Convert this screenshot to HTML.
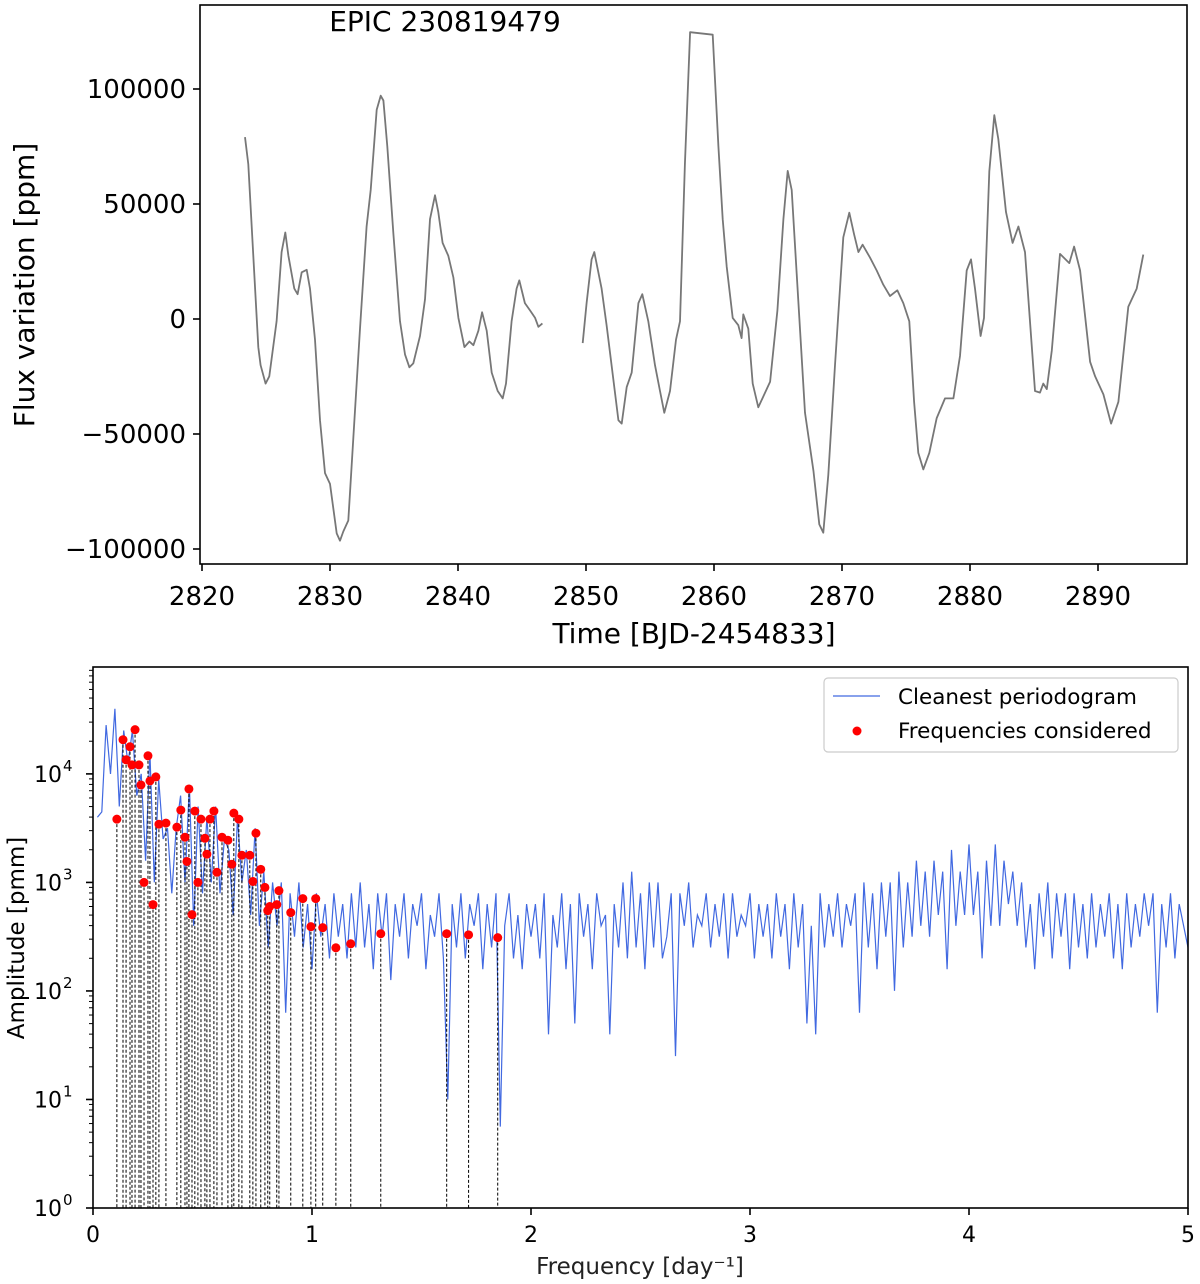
<!DOCTYPE html>
<html><head><meta charset="utf-8">
<style>
html,body{margin:0;padding:0;background:#fff;}
svg{display:block;font-family:"DejaVu Sans","Liberation Sans",sans-serif;}
</style></head>
<body>
<svg id="fig" width="1200" height="1284" viewBox="0 0 1200 1284" xmlns="http://www.w3.org/2000/svg"></svg>
<script>
// ---- light curve data ----
const lcTime1 = [2823.36,2823.62,2824.01,2824.40,2824.58,2824.97,2825.26,2825.83,2826.22,2826.51,2826.75,2827.21,2827.47,2827.79,2828.18,2828.44,2828.83,2829.22,2829.61,2830.0,2830.52,2830.78,2831.04,2831.43,2831.82,2832.34,2832.86,2833.18,2833.65,2833.96,2834.17,2834.48,2834.95,2835.47,2835.86,2836.2,2836.51,2837.03,2837.42,2837.81,2838.2,2838.46,2838.8,2839.24,2839.64,2840.03,2840.5,2840.89,2841.2,2841.59,2841.88,2842.24,2842.63,2843.1,2843.49,2843.75,2844.19,2844.58,2844.79,2845.23,2845.63,2846.02,2846.28,2846.59];
const lcFlux1 = [79100,67300,27500,-12200,-20100,-28100,-24900,-1000,29100,37600,27500,13200,10800,20300,21400,13200,-9000,-44000,-67000,-71700,-93200,-96400,-92400,-87600,-51900,-4200,40200,56100,91000,97100,95000,75100,37000,-1000,-15400,-21000,-19300,-7400,8500,43400,53800,46500,33100,27500,18000,500,-12200,-9800,-11400,-5100,2900,-5100,-23300,-31300,-34500,-28100,-1000,13200,16800,6900,3700,500,-3400,-1900];
const lcTime2 = [2849.74,2850.05,2850.44,2850.65,2851.22,2851.61,2852.14,2852.53,2852.79,2853.18,2853.57,2854.09,2854.4,2854.87,2855.39,2855.78,2856.12,2856.56,2857.03,2857.34,2857.73,2858.13,2859.9,2860.34,2860.68,2860.99,2861.46,2861.9,2862.16,2862.29,2862.68,2863.02,2863.46,2863.85,2864.38,2864.95,2865.42,2865.76,2866.07,2866.46,2867.11,2867.77,2868.23,2868.54,2868.93,2869.45,2870.1,2870.57,2870.94,2871.28,2871.61,2872.19,2872.71,2873.23,2873.75,2874.32,2874.79,2875.26,2875.63,2875.96,2876.35,2876.82,2877.4,2878.05,2878.7,2879.22,2879.74,2880.08,2880.39,2880.83,2881.09,2881.51,2881.9,2882.21,2882.81,2883.33,2883.78,2884.3,2885.08,2885.47,2885.73,2886.0,2886.39,2887.03,2887.76,2888.13,2888.6,2889.38,2889.77,2890.42,2891.02,2891.59,2892.37,2893.02,2893.54];
const lcFlux2 = [-10500,6900,25900,29100,13200,-2700,-26500,-44000,-45500,-29600,-23300,6900,10800,-1000,-20100,-31300,-40800,-31300,-9000,-1000,67300,124700,123600,75100,43400,22800,500,-2700,-8300,2000,-4200,-28100,-38400,-33700,-27300,3700,43400,64400,56100,19600,-40800,-66200,-89300,-92900,-67800,-20100,35500,46200,37000,29100,32300,26700,21100,14900,10000,12500,6900,-1000,-36000,-58200,-65400,-58200,-43100,-34500,-34500,-16100,21100,25900,13200,-7400,500,64100,88600,78300,46500,33100,40200,29100,-31300,-32000,-28100,-30500,-13700,28300,24300,31500,21100,-18600,-24900,-32800,-45500,-36000,5300,13200,28000];
const timeTicks = [2820,2830,2840,2850,2860,2870,2880,2890];
const fluxTicks = [100000,50000,0,-50000,-100000];
const fluxTickLabels = ["100000","50000","0","\u221250000","\u2212100000"];

// ---- periodogram data (log10 amplitude, step 0.02 from 0.02) ----
const pgStart = 0.02, pgStep = 0.02;
const pgLogAmp = [3.6,3.65,4.45,4.0,4.6,3.7,4.4,4.1,4.4,3.8,
4.0,3.2,4.2,3.0,3.95,3.4,3.5,2.9,3.5,3.8,
3.0,3.9,2.6,3.7,2.9,3.6,3.0,3.7,2.9,3.4,
3.3,2.7,3.6,3.0,3.3,2.7,3.5,2.6,3.1,2.4,
3.0,2.6,3.0,1.8,2.9,2.5,3.0,2.4,2.8,2.2,
2.9,2.5,2.8,2.3,2.9,2.5,2.8,2.3,2.9,2.4,
3.0,2.4,2.8,2.2,2.9,2.5,2.9,2.1,2.8,2.5,
2.9,2.3,2.8,2.6,2.9,2.2,2.7,2.5,2.9,2.3,
1.0,2.8,2.4,2.9,2.3,2.8,2.6,2.9,2.2,2.8,
2.4,2.9,0.75,2.6,2.9,2.3,2.7,2.2,2.8,2.5,
2.8,2.3,2.9,1.6,2.7,2.4,2.9,2.2,2.8,1.7,
2.9,2.5,2.8,2.2,2.9,2.6,2.7,1.6,2.8,2.4,
3.0,2.3,3.1,2.4,2.9,2.2,3.0,2.4,3.0,2.3,
2.5,2.9,1.4,2.9,2.6,3.0,2.4,2.7,2.6,2.9,
2.4,2.8,2.5,2.9,2.3,2.9,2.5,2.7,2.6,2.9,
2.3,2.8,2.5,2.8,2.3,2.9,2.5,2.8,2.2,2.9,
2.4,2.8,1.7,2.6,1.6,2.9,2.4,2.8,2.5,2.9,
2.4,2.8,2.6,2.9,1.8,3.0,2.4,2.9,2.2,3.0,
2.5,3.0,2.0,3.1,2.4,3.0,2.5,3.2,2.6,3.1,
2.5,3.2,2.7,3.1,2.2,3.3,2.6,3.1,2.7,3.35,
2.7,3.1,2.3,3.2,2.6,3.35,2.6,3.2,2.8,3.1,
2.6,3.0,2.4,2.8,2.2,2.9,2.5,3.0,2.3,2.9,
2.5,2.9,2.2,2.9,2.4,2.8,2.3,2.9,2.4,2.8,
2.5,2.9,2.3,2.8,2.2,2.9,2.4,2.8,2.5,2.9,
2.6,2.9,1.8,2.8,2.4,2.9,2.3,2.8,2.6,2.4];
const peakFreq = [0.109,0.137,0.151,0.169,0.178,0.192,0.210,0.219,0.233,0.251,0.260,0.274,0.287,0.301,0.333,0.383,0.401,0.420,0.429,0.438,0.452,0.465,0.479,0.493,0.511,0.520,0.534,0.552,0.566,0.589,0.616,0.634,0.643,0.666,0.680,0.716,0.730,0.744,0.766,0.785,0.798,0.807,0.839,0.849,0.903,0.958,0.995,1.017,1.049,1.109,1.177,1.314,1.615,1.715,1.848];
const peakAmp = [3830,20650,13490,17780,12100,25550,12100,7910,1000,14680,8610,625,9380,3440,3520,3230,4640,2610,1560,7260,505,4540,1000,3830,2550,1820,3830,4540,1240,2610,2450,1470,4350,3830,1780,1780,1020,2840,1320,900,550,600,625,840,527,710,391,710,383,250,272,337,337,329,310];
const freqTicks = [0,1,2,3,4,5];
const ampDecades = [0,1,2,3,4];

const NS='http://www.w3.org/2000/svg';
const svgRoot=document.getElementById('fig');
function mk(tag,attrs,parent){const el=document.createElementNS(NS,tag);for(const k in attrs)el.setAttribute(k,attrs[k]);(parent||svgRoot).appendChild(el);return el;}

// ===== Top panel =====
const T={l:200,r:1187,t:5,b:564};
const tx=t=>202+12.8*(t-2820);
const fy=f=>319-0.0023*f;
const topG=mk('g',{});


function curve(ts,fs,name){
  let dd='';ts.forEach((t,i)=>{dd+=(i?'L':'M')+tx(t).toFixed(1)+','+fy(fs[i]).toFixed(1);});
  const p=mk('path',{d:dd,fill:'none',stroke:'#777','stroke-width':1.8,'stroke-linejoin':'round'},topG);
  
  
}
curve(lcTime1,lcFlux1,'light-curve-segment-1');
curve(lcTime2,lcFlux2,'light-curve-segment-2');
const tf=mk('rect',{x:T.l,y:T.t,width:T.r-T.l,height:T.b-T.t,fill:'none',stroke:'#000','stroke-width':1.6},topG);


timeTicks.forEach(t=>{
  const x=tx(t);
  mk('line',{x1:x,x2:x,y1:T.b,y2:T.b+7,stroke:'#000','stroke-width':1.6},topG);
  const lb=mk('text',{x:x,y:T.b+41,'font-size':26,'text-anchor':'middle',fill:'#000'},topG);
  lb.textContent=t;
  
  
});
fluxTicks.forEach((f,i)=>{
  const y=fy(f);
  mk('line',{x1:T.l-7,x2:T.l,y1:y,y2:y,stroke:'#000','stroke-width':1.6},topG);
  const lb=mk('text',{x:T.l-14,y:y+9,'font-size':26,'text-anchor':'end',fill:'#000'},topG);
  lb.textContent=fluxTickLabels[i];
  
  
});
let el;
el=mk('text',{x:445,y:31,'font-size':28,'text-anchor':'middle',fill:'#000'},topG);el.textContent='EPIC 230819479';


el=mk('text',{x:694,y:643,'font-size':28,'text-anchor':'middle',fill:'#000'},topG);el.textContent='Time [BJD-2454833]';


el=mk('text',{x:0,y:0,'font-size':28,'text-anchor':'middle',fill:'#000',transform:'translate(34,285) rotate(-90)'},topG);el.textContent='Flux variation [ppm]';



// ===== Bottom panel =====
const B={l:93,r:1188,t:667,b:1208};
const dec=(B.b-B.t)/4.985;
const px=f=>B.l+(B.r-B.l)*f/5;
const py=lg=>B.b-dec*lg;
const botG=mk('g',{});


const clip=mk('clipPath',{id:'bc'},botG);mk('rect',{x:B.l,y:B.t,width:B.r-B.l,height:B.b-B.t},clip);
let pd='';pgLogAmp.forEach((v,i)=>{pd+=(i?'L':'M')+px(pgStart+i*pgStep).toFixed(1)+','+py(v).toFixed(1);});
const pl=mk('path',{d:pd,fill:'none',stroke:'#4169e1','stroke-width':1.2,'clip-path':'url(#bc)'},botG);


peakFreq.forEach((f,i)=>{
  const x=px(f),y=py(Math.log10(peakAmp[i]));
  const ln=mk('line',{x1:x,x2:x,y1:y,y2:B.b,stroke:'#000','stroke-width':1,'stroke-dasharray':'3,2'},botG);
  
  
});
peakFreq.forEach((f,i)=>{
  const c=mk('circle',{cx:px(f),cy:py(Math.log10(peakAmp[i])),r:4.5,fill:'#ff0000'},botG);
  
  
});
const bf=mk('rect',{x:B.l,y:B.t,width:B.r-B.l,height:B.b-B.t,fill:'none',stroke:'#000','stroke-width':1.6},botG);


freqTicks.forEach(f=>{
  const x=px(f);
  mk('line',{x1:x,x2:x,y1:B.b,y2:B.b+7,stroke:'#000','stroke-width':1.6},botG);
  const lb=mk('text',{x:x,y:B.b+34,'font-size':22,'text-anchor':'middle',fill:'#000'},botG);
  lb.textContent=f;
  
  
});
ampDecades.forEach(k=>{
  const y=py(k);
  mk('line',{x1:B.l-7,x2:B.l,y1:y,y2:y,stroke:'#000','stroke-width':1.6},botG);
  for(let m=2;m<=9;m++){const ym=py(k+Math.log10(m));if(ym>B.t)mk('line',{x1:B.l-4,x2:B.l,y1:ym,y2:ym,stroke:'#000','stroke-width':1},botG);}
  const lb=mk('text',{x:B.l-31,y:y+8,'font-size':22,'text-anchor':'end',fill:'#000'},botG);
  lb.textContent='10';
  
  
  const sp=mk('text',{x:B.l-30,y:y-3,'font-size':15,'text-anchor':'start',fill:'#000'},botG);sp.textContent=k;
});
el=mk('text',{x:640,y:1274,'font-size':23,'text-anchor':'middle',fill:'#222'},botG);el.textContent='Frequency [day\u207B\u00B9]';


el=mk('text',{x:0,y:0,'font-size':23,'text-anchor':'middle',fill:'#000',transform:'translate(24,938) rotate(-90)'},botG);el.textContent='Amplitude [pmm]';


// legend
const lgG=mk('g',{},botG);


mk('rect',{x:824,y:678,width:354,height:74,rx:4,fill:'#fff',stroke:'#ccc','stroke-width':1.2},lgG);
mk('line',{x1:833,x2:880,y1:696,y2:696,stroke:'#4169e1','stroke-width':1.2},lgG);
el=mk('text',{x:898,y:704,'font-size':21.5,fill:'#000'},lgG);el.textContent='Cleanest periodogram';


mk('circle',{cx:857,cy:731,r:4.5,fill:'#ff0000'},lgG);
el=mk('text',{x:898,y:738,'font-size':21.5,fill:'#000'},lgG);el.textContent='Frequencies considered';


</script>
</body></html>
